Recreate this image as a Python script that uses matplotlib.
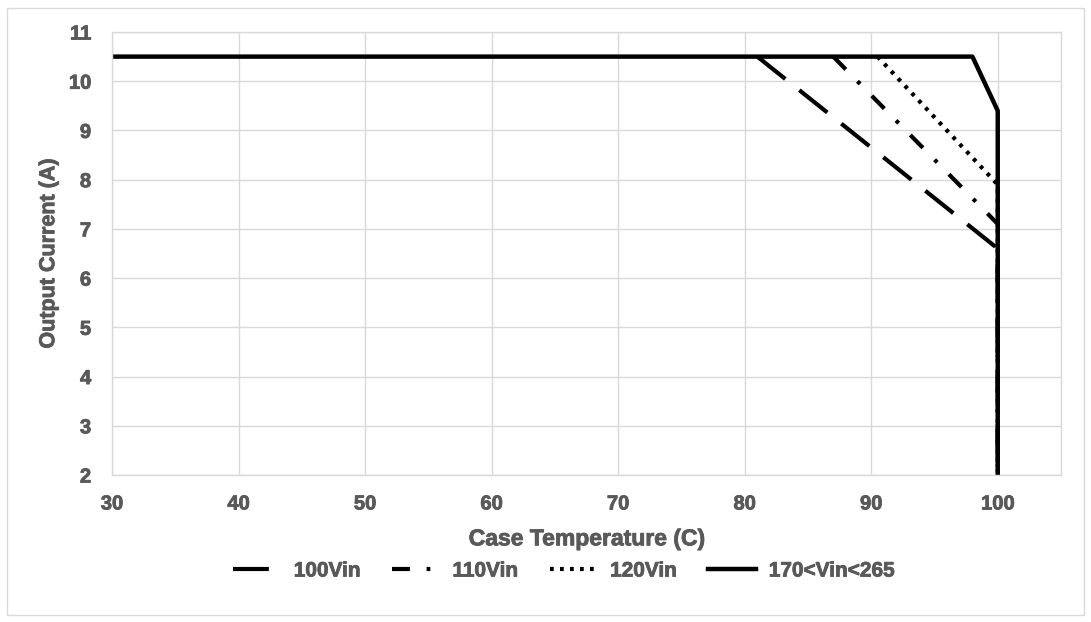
import matplotlib.pyplot as plt
import matplotlib.patheffects as pe
from matplotlib.patches import Rectangle

# derating curves
t_100 = [30, 81, 100, 100]
i_100 = [10.5, 10.5, 6.6, 2]
t_110 = [30, 87, 100, 100]
i_110 = [10.5, 10.5, 7.1, 2]
t_120 = [30, 90.5, 100, 100]
i_120 = [10.5, 10.5, 7.9, 2]
t_170 = [30, 98, 100, 100]
i_170 = [10.5, 10.5, 9.4, 2]

x_ticks = [30, 40, 50, 60, 70, 80, 90, 100]
y_ticks = [2, 3, 4, 5, 6, 7, 8, 9, 10, 11]

plt.rcParams['font.family'] = ['Liberation Sans', 'DejaVu Sans']
plt.rcParams['font.weight'] = 'bold'
txt = '#595959'
grid = '#d9d9d9'
heavy = [pe.withStroke(linewidth=0.6, foreground=txt)]

fig = plt.figure(figsize=(10.91, 6.22), dpi=100)
ax = fig.add_axes([112 / 1091, 1 - 475 / 622, (1061 - 112) / 1091, (475 - 32) / 622])

# the flat part of the dashed curves lies under the solid one, so start them at the knee
ax.plot(t_100[1:], i_100[1:], color='black', lw=3, dashes=(8.6, 4.3), dash_capstyle='butt', label='100Vin')
ax.plot(t_110[1:], i_110[1:], color='black', lw=3, dashes=(4.3, 4.0, 0.9, 4.0), dash_capstyle='butt', label='110Vin')
ax.plot(t_120[1:], i_120[1:], color='black', lw=3, dashes=(0.9, 1.5), dash_capstyle='butt', label='120Vin')
ax.plot(t_170, i_170, color='black', lw=3.2, label='170<Vin<265')

ax.set_xlim(30, 105)
ax.set_ylim(2, 11)
ax.set_xticks(x_ticks)
ax.set_yticks(y_ticks)
ax.grid(True, color=grid, lw=1)
ax.set_axisbelow(True)
for s in ax.spines.values():
    s.set_color(grid)
    s.set_linewidth(1)
ax.tick_params(length=0, labelsize=14.5, labelcolor=txt)
ax.tick_params(axis='x', pad=14)
ax.tick_params(axis='y', pad=15)
for lb in ax.get_xticklabels() + ax.get_yticklabels():
    lb.set_fontweight('bold')
    lb.set_path_effects(heavy)

xl = ax.set_xlabel('Case Temperature (C)', fontsize=16.5, color=txt, fontweight='bold', labelpad=10)
yl = ax.set_ylabel('Output Current (A)', fontsize=15.5, color=txt, fontweight='bold', labelpad=7)
xl.set_path_effects(heavy)
yl.set_path_effects(heavy)

leg = fig.legend(loc='center', bbox_to_anchor=(0.517, 1 - 571 / 622), ncol=4, frameon=False,
                 prop={'size': 15, 'weight': 'bold'}, handlelength=2.3, columnspacing=1.5,
                 handletextpad=0.6)
for t in leg.get_texts():
    t.set_color(txt)
    t.set_path_effects(heavy)

fig.patches.append(Rectangle((7 / 1091, 1 - 615 / 622), 1077 / 1091, 607 / 622,
                             transform=fig.transFigure, fill=False, edgecolor=grid, lw=1))

plt.savefig('out.png', dpi=100)
